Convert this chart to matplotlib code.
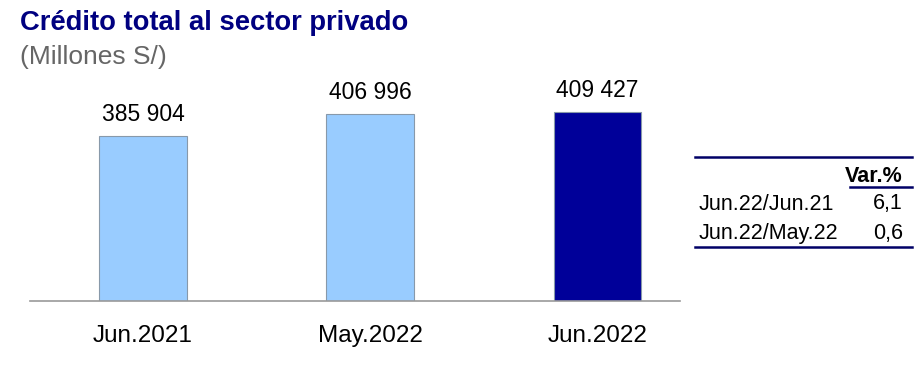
import matplotlib
matplotlib.use("Agg")
import matplotlib.pyplot as plt
from matplotlib.lines import Line2D

plt.rcParams['font.family'] = ['Liberation Sans', 'DejaVu Sans']

categories = ["Jun.2021", "May.2022", "Jun.2022"]
values = [385904, 406996, 409427]
bar_colors = ["#99CCFF", "#99CCFF", "#000099"]
value_labels = ["385 904", "406 996", "409 427"]
var_rows = ["Jun.22/Jun.21", "Jun.22/May.22"]
var_values = ["6,1", "0,6"]

W, H = 917, 368
fig = plt.figure(figsize=(W / 100, H / 100), dpi=100)

def fx(px):
    return px / W

def fy(py):
    return 1 - py / H

ax = fig.add_axes([fx(30), fy(301), fx(680) - fx(30), fy(60) - fy(301)])
x = list(range(len(categories)))
ax.bar(x, values, width=0.387, color=bar_colors, edgecolor="#8899AA", linewidth=0.8, zorder=2)
ax.set_xlim(-0.497, 2.363)
ax.set_ylim(228000, 458900)
for xi, v, lab in zip(x, values, value_labels):
    ax.annotate(lab, (xi, v), xytext=(0, 7), textcoords="offset points",
                ha="center", va="bottom", fontsize=16.5, color="black")
ax.set_xticks(x)
ax.set_xticklabels(categories, fontsize=17.5)
ax.tick_params(axis="x", length=0, pad=17)
ax.set_yticks([])
for s in ["top", "right", "left"]:
    ax.spines[s].set_visible(False)
ax.spines["bottom"].set_color("#999999")
ax.spines["bottom"].set_linewidth(1.2)

fig.text(fx(20), fy(23), "Crédito total al sector privado", fontsize=19.7, fontweight="bold",
         color="#000080", ha="left", va="center")
fig.text(fx(20), fy(57), "(Millones S/)", fontsize=19, color="#666666", ha="left", va="center")

# Variation table
navy = "#000066"
fig.add_artist(Line2D([fx(695), fx(912)], [fy(157), fy(157)], color=navy, lw=1.8))
fig.text(fx(903), fy(176), "Var.%", fontsize=15.5, fontweight="bold", ha="right", va="center")
fig.add_artist(Line2D([fx(850), fx(912)], [fy(187), fy(187)], color=navy, lw=1.8))
for i, (r, v) in enumerate(zip(var_rows, var_values)):
    yy = fy(204 + i * 29)
    fig.text(fx(699), yy, r, fontsize=15.5, ha="left", va="center")
    fig.text(fx(903), yy, v, fontsize=15.5, ha="right", va="center")
fig.add_artist(Line2D([fx(695), fx(912)], [fy(247), fy(247)], color=navy, lw=1.8))

fig.savefig("out.png", dpi=100)
